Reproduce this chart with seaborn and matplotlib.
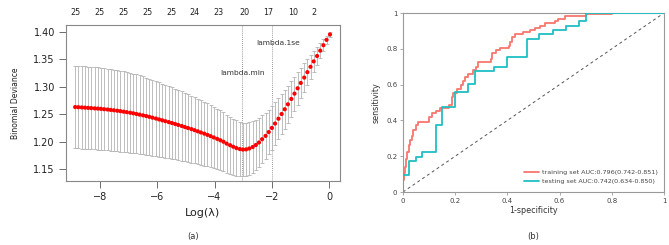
import matplotlib
matplotlib.use("Agg")
import matplotlib.pyplot as plt
import seaborn as sns

# cv.glmnet curve: log(lambda), mean binomial deviance and its standard error
log_lambda = [
    -8.87, -8.76, -8.64, -8.53, -8.42, -8.31, -8.19, -8.08, -7.97, -7.86,
    -7.74, -7.63, -7.52, -7.40, -7.29, -7.18, -7.07, -6.95, -6.84, -6.73,
    -6.62, -6.50, -6.39, -6.28, -6.17, -6.05, -5.94, -5.83, -5.72, -5.60,
    -5.49, -5.38, -5.27, -5.15, -5.04, -4.93, -4.81, -4.70, -4.59, -4.48,
    -4.36, -4.25, -4.14, -4.03, -3.91, -3.80, -3.69, -3.58, -3.46, -3.35,
    -3.24, -3.12, -3.01, -2.90, -2.79, -2.67, -2.56, -2.45, -2.34, -2.22,
    -2.11, -2.00, -1.89, -1.77, -1.66, -1.55, -1.44, -1.32, -1.21, -1.10,
    -0.99, -0.87, -0.76, -0.65, -0.54, -0.42, -0.31, -0.20, -0.09, 0.03,
]
cv_mean = [
    1.2630, 1.2627, 1.2623, 1.2619, 1.2615, 1.2611, 1.2606, 1.2602, 1.2597, 1.2591,
    1.2585, 1.2578, 1.2571, 1.2563, 1.2555, 1.2546, 1.2537, 1.2527, 1.2516, 1.2504,
    1.2492, 1.2479, 1.2466, 1.2452, 1.2437, 1.2421, 1.2405, 1.2389, 1.2373, 1.2356,
    1.2339, 1.2322, 1.2304, 1.2286, 1.2267, 1.2248, 1.2229, 1.2209, 1.2189, 1.2168,
    1.2146, 1.2124, 1.2101, 1.2077, 1.2052, 1.2026, 1.1999, 1.1965, 1.1936, 1.1908,
    1.1884, 1.1866, 1.1857, 1.1860, 1.1876, 1.1903, 1.1940, 1.1985, 1.2045, 1.2105,
    1.2175, 1.2250, 1.2330, 1.2418, 1.2503, 1.2590, 1.2680, 1.2777, 1.2874, 1.2971,
    1.3068, 1.3166, 1.3264, 1.3362, 1.3460, 1.3558, 1.3656, 1.3754, 1.3852, 1.3950,
]
cv_se = [
    0.0750, 0.0750, 0.0750, 0.0750, 0.0749, 0.0749, 0.0748, 0.0748, 0.0747, 0.0746,
    0.0745, 0.0743, 0.0741, 0.0739, 0.0736, 0.0733, 0.0730, 0.0726, 0.0722, 0.0718,
    0.0713, 0.0707, 0.0701, 0.0695, 0.0689, 0.0682, 0.0676, 0.0669, 0.0663, 0.0656,
    0.0650, 0.0643, 0.0636, 0.0629, 0.0622, 0.0615, 0.0608, 0.0601, 0.0594, 0.0587,
    0.0580, 0.0573, 0.0566, 0.0559, 0.0551, 0.0544, 0.0536, 0.0528, 0.0520, 0.0512,
    0.0504, 0.0496, 0.0488, 0.0480, 0.0473, 0.0466, 0.0458, 0.0448, 0.0436, 0.0422,
    0.0408, 0.0395, 0.0384, 0.0373, 0.0362, 0.0351, 0.0340, 0.0326, 0.0311, 0.0295,
    0.0278, 0.0259, 0.0238, 0.0215, 0.0190, 0.0163, 0.0135, 0.0105, 0.0075, 0.0045,
]
lambda_min = -3.03
lambda_1se = -2.00

# number of non-zero coefficients shown along the top
nz_pos = [-8.87, -8.02, -7.18, -6.34, -5.49, -4.70, -3.86, -2.97, -2.11, -1.26, -0.54]
nz_labels = ["25", "25", "25", "25", "25", "24", "23", "20", "17", "10", "2"]

# ROC curves (step vertices)
train_fpr = [0.000, 0.000, 0.004, 0.008, 0.012, 0.016, 0.022, 0.027, 0.033, 0.040,
             0.048, 0.058, 0.100, 0.112, 0.126, 0.142, 0.178, 0.186, 0.192, 0.205,
             0.222, 0.230, 0.236, 0.248, 0.270, 0.280, 0.288, 0.336, 0.340, 0.355,
             0.370, 0.405, 0.410, 0.418, 0.428, 0.460, 0.487, 0.505, 0.525, 0.544,
             0.582, 0.595, 0.621, 0.700, 0.800, 1.000]
train_tpr = [0.000, 0.067, 0.105, 0.140, 0.185, 0.225, 0.260, 0.290, 0.315, 0.345,
             0.375, 0.390, 0.420, 0.440, 0.455, 0.470, 0.485, 0.530, 0.555, 0.575,
             0.598, 0.620, 0.645, 0.660, 0.682, 0.700, 0.725, 0.745, 0.776, 0.793,
             0.806, 0.815, 0.840, 0.866, 0.885, 0.894, 0.904, 0.915, 0.930, 0.946,
             0.955, 0.968, 0.983, 0.994, 1.000, 1.000]
test_fpr = [0.000, 0.000, 0.024, 0.050, 0.072, 0.125, 0.148, 0.199, 0.248, 0.276,
            0.350, 0.397, 0.474, 0.522, 0.573, 0.625, 0.676, 0.701, 1.000]
test_tpr = [0.000, 0.095, 0.173, 0.197, 0.222, 0.374, 0.477, 0.557, 0.602, 0.678,
            0.700, 0.752, 0.857, 0.881, 0.905, 0.927, 0.957, 1.000, 1.000]
train_label = "training set AUC:0.796(0.742-0.851)"
test_label = "testing set AUC:0.742(0.634-0.850)"

sns.set_theme(style="white")
plt.rcParams["font.family"] = ["DejaVu Sans"]
plt.rcParams["axes.unicode_minus"] = True

fig = plt.figure(figsize=(6.69, 2.45), dpi=100)

# ---------- panel (a) ----------
ax1 = fig.add_axes([66 / 669, 64 / 245, 274 / 669, 156 / 245])
ax1.errorbar(log_lambda, cv_mean, yerr=cv_se, fmt="none", ecolor="#b3b3b3",
             elinewidth=0.6, capsize=1.4, capthick=0.6, zorder=1)
sns.scatterplot(x=log_lambda, y=cv_mean, ax=ax1, color="#ff0000", s=9,
                edgecolor="none", linewidth=0, zorder=3)
for v in (lambda_min, lambda_1se):
    ax1.axvline(v, color="#777777", lw=0.6, linestyle=(0, (1, 1.5)), zorder=0)

ax1.set_xlim(-9.19, 0.38)
ax1.set_ylim(1.1285, 1.4122)
ax1.set_xticks([-8, -6, -4, -2, 0])
ax1.set_yticks([1.15, 1.20, 1.25, 1.30, 1.35, 1.40])
ax1.set_yticklabels(["1.15", "1.20", "1.25", "1.30", "1.35", "1.40"])
ax1.tick_params(axis="both", direction="out", length=5, width=0.6,
                color="#555555", labelsize=7, labelcolor="#222222", pad=3,
                left=True, bottom=True)
for sp in ax1.spines.values():
    sp.set_color("#888888")
    sp.set_linewidth(0.8)
ax1.set_xlabel("Log(λ)", fontsize=8, color="#222222", labelpad=4)
ax1.set_ylabel("")

for xv, lab in zip(nz_pos, nz_labels):
    ax1.text(xv, 1.081, lab, transform=ax1.get_xaxis_transform(),
             ha="center", va="center", fontsize=5.8, color="#222222")

ax1.text(lambda_min, 1.3255, "lambda.min", ha="center", va="center",
         fontsize=5.4, color="#333333")
ax1.text(-1.78, 1.379, "lambda.1se", ha="center", va="center",
         fontsize=5.4, color="#333333")

fig.text(16 / 669, 1 - 103 / 245, "Binomial Deviance", rotation=90,
         ha="center", va="center", fontsize=5.5, color="#222222")
fig.text(193 / 669, 1 - 236 / 245, "(a)", ha="center", va="center",
         fontsize=6, color="#333333")

# ---------- panel (b) ----------
ax2 = fig.add_axes([403 / 669, 53 / 245, 261 / 669, 179 / 245])
ax2.axline((0, 0), slope=1, color="#555555", lw=0.7, linestyle=(0, (3, 3)), zorder=1)
sns.lineplot(x=train_fpr, y=train_tpr, ax=ax2, color="#f8766d", lw=1.3,
             estimator=None, sort=False, drawstyle="steps-post",
             label=train_label, zorder=2)
sns.lineplot(x=test_fpr, y=test_tpr, ax=ax2, color="#1fbfc4", lw=1.3,
             estimator=None, sort=False, drawstyle="steps-post",
             label=test_label, zorder=3)

ax2.set_xlim(0, 1)
ax2.set_ylim(0, 1)
ticks = [0, 0.2, 0.4, 0.6, 0.8, 1]
tick_text = ["0", "0.2", "0.4", "0.6", "0.8", "1"]
ax2.set_xticks(ticks)
ax2.set_xticklabels(tick_text)
ax2.set_yticks(ticks)
ax2.set_yticklabels(tick_text)
ax2.tick_params(axis="both", direction="out", length=2, width=0.5,
                color="#888888", labelsize=5, labelcolor="#444444", pad=2,
                left=True, bottom=True)
for sp in ax2.spines.values():
    sp.set_color("#999999")
    sp.set_linewidth(0.8)
ax2.set_xlabel("1-specificity", fontsize=5.8, color="#333333", labelpad=2)
ax2.set_ylabel("sensitivity", fontsize=5.8, color="#333333", labelpad=4)

leg = ax2.legend(loc="lower right", bbox_to_anchor=(0.995, 0.02), frameon=False,
                 fontsize=4.6, handlelength=2.2, handletextpad=0.6,
                 labelspacing=0.55, borderpad=0.2)
for t in leg.get_texts():
    t.set_color("#444444")

fig.text(533 / 669, 1 - 236 / 245, "(b)", ha="center", va="center",
         fontsize=6, color="#333333")

fig.savefig("out.png", dpi=100)
